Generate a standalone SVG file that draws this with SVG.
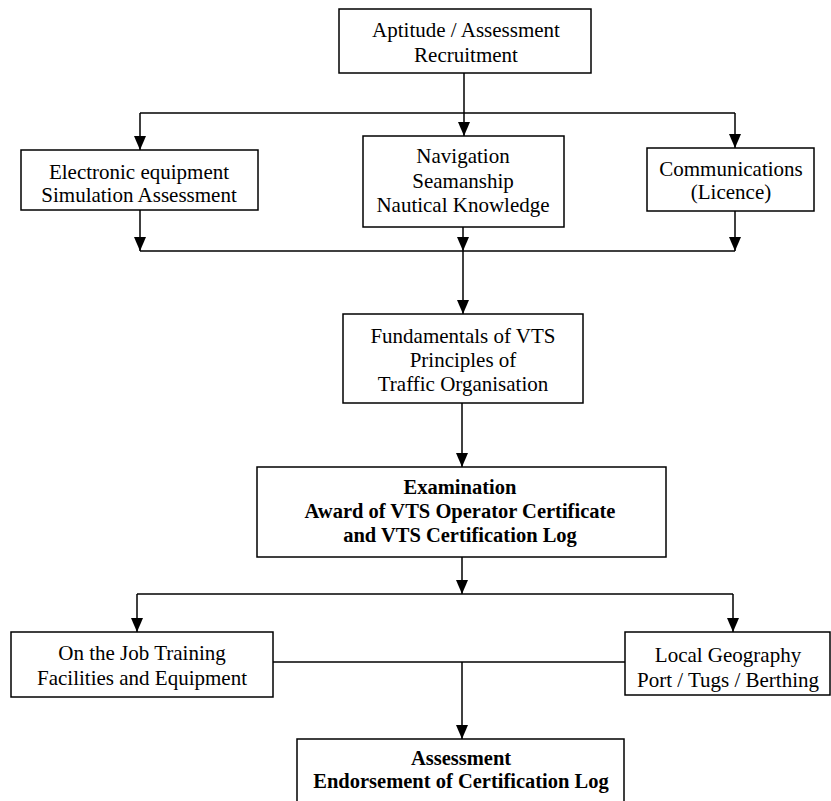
<svg xmlns="http://www.w3.org/2000/svg" width="831" height="801" viewBox="0 0 831 801">
<style>
.box{fill:#fff;stroke:#000;stroke-width:1.5}
.t{font-family:"Liberation Serif","Times New Roman",serif;font-size:21px;fill:#000;text-anchor:middle}
.b{font-weight:bold;font-size:20.5px}
.c{fill:none;stroke:#000;stroke-width:1.5}
</style>
<defs>
<marker id="ah" markerUnits="userSpaceOnUse" markerWidth="14" markerHeight="12" refX="14" refY="6" orient="auto">
<path d="M0,0 L14,6 L0,12 z" fill="#000"/>
</marker>
</defs>
<rect width="831" height="801" fill="#fff"/>
<g id="connectors">
<path class="c" d="M464,73 V136" marker-end="url(#ah)"/>
<path class="c" d="M140,113 H735"/>
<path class="c" d="M140,113 V150" marker-end="url(#ah)"/>
<path class="c" d="M735,113 V148" marker-end="url(#ah)"/>
<path class="c" d="M140,210 V251" marker-end="url(#ah)"/>
<path class="c" d="M463,227 V251" marker-end="url(#ah)"/>
<path class="c" d="M735,211 V251" marker-end="url(#ah)"/>
<path class="c" d="M140,251 H735"/>
<path class="c" d="M463,251 V314" marker-end="url(#ah)"/>
<path class="c" d="M462,403 V467" marker-end="url(#ah)"/>
<path class="c" d="M462,557 V594" marker-end="url(#ah)"/>
<path class="c" d="M137,594 H733"/>
<path class="c" d="M137,594 V632" marker-end="url(#ah)"/>
<path class="c" d="M733,594 V632" marker-end="url(#ah)"/>
<path class="c" d="M273,662 H625"/>
<path class="c" d="M462,662 V739" marker-end="url(#ah)"/>
</g>
<g id="n_recruit">
<rect class="box" x="339" y="9" width="252" height="64"/>
<text class="t" x="466" y="37">Aptitude / Assessment</text>
<text class="t" x="466" y="62">Recruitment</text>
</g>
<g id="n_electronic">
<rect class="box" x="21" y="150" width="237" height="60"/>
<text class="t" x="139" y="179">Electronic equipment</text>
<text class="t" x="139" y="202">Simulation Assessment</text>
</g>
<g id="n_navigation">
<rect class="box" x="363" y="136" width="201" height="91"/>
<text class="t" x="463" y="163">Navigation</text>
<text class="t" x="463" y="188">Seamanship</text>
<text class="t" x="463" y="212">Nautical Knowledge</text>
</g>
<g id="n_comms">
<rect class="box" x="647" y="148" width="167" height="63"/>
<text class="t" x="731" y="176">Communications</text>
<text class="t" x="731" y="199">(Licence)</text>
</g>
<g id="n_fundamentals">
<rect class="box" x="343" y="314" width="240" height="89"/>
<text class="t" x="463" y="343">Fundamentals of VTS</text>
<text class="t" x="463" y="367">Principles of</text>
<text class="t" x="463" y="391">Traffic Organisation</text>
</g>
<g id="n_exam">
<rect class="box" x="257" y="467" width="409" height="90"/>
<text class="t b" x="460" y="494">Examination</text>
<text class="t b" x="460" y="518">Award of VTS Operator Certificate</text>
<text class="t b" x="460" y="542">and VTS Certification Log</text>
</g>
<g id="n_ojt">
<rect class="box" x="11" y="632" width="262" height="65"/>
<text class="t" x="142" y="660">On the Job Training</text>
<text class="t" x="142" y="685">Facilities and Equipment</text>
</g>
<g id="n_local">
<rect class="box" x="625" y="632" width="205" height="63"/>
<text class="t" x="728" y="662">Local Geography</text>
<text class="t" x="728" y="687">Port / Tugs / Berthing</text>
</g>
<g id="n_assessment">
<rect class="box" x="297" y="739" width="327" height="70"/>
<text class="t b" x="461" y="765">Assessment</text>
<text class="t b" x="461" y="788">Endorsement of Certification Log</text>
</g>
</svg>
